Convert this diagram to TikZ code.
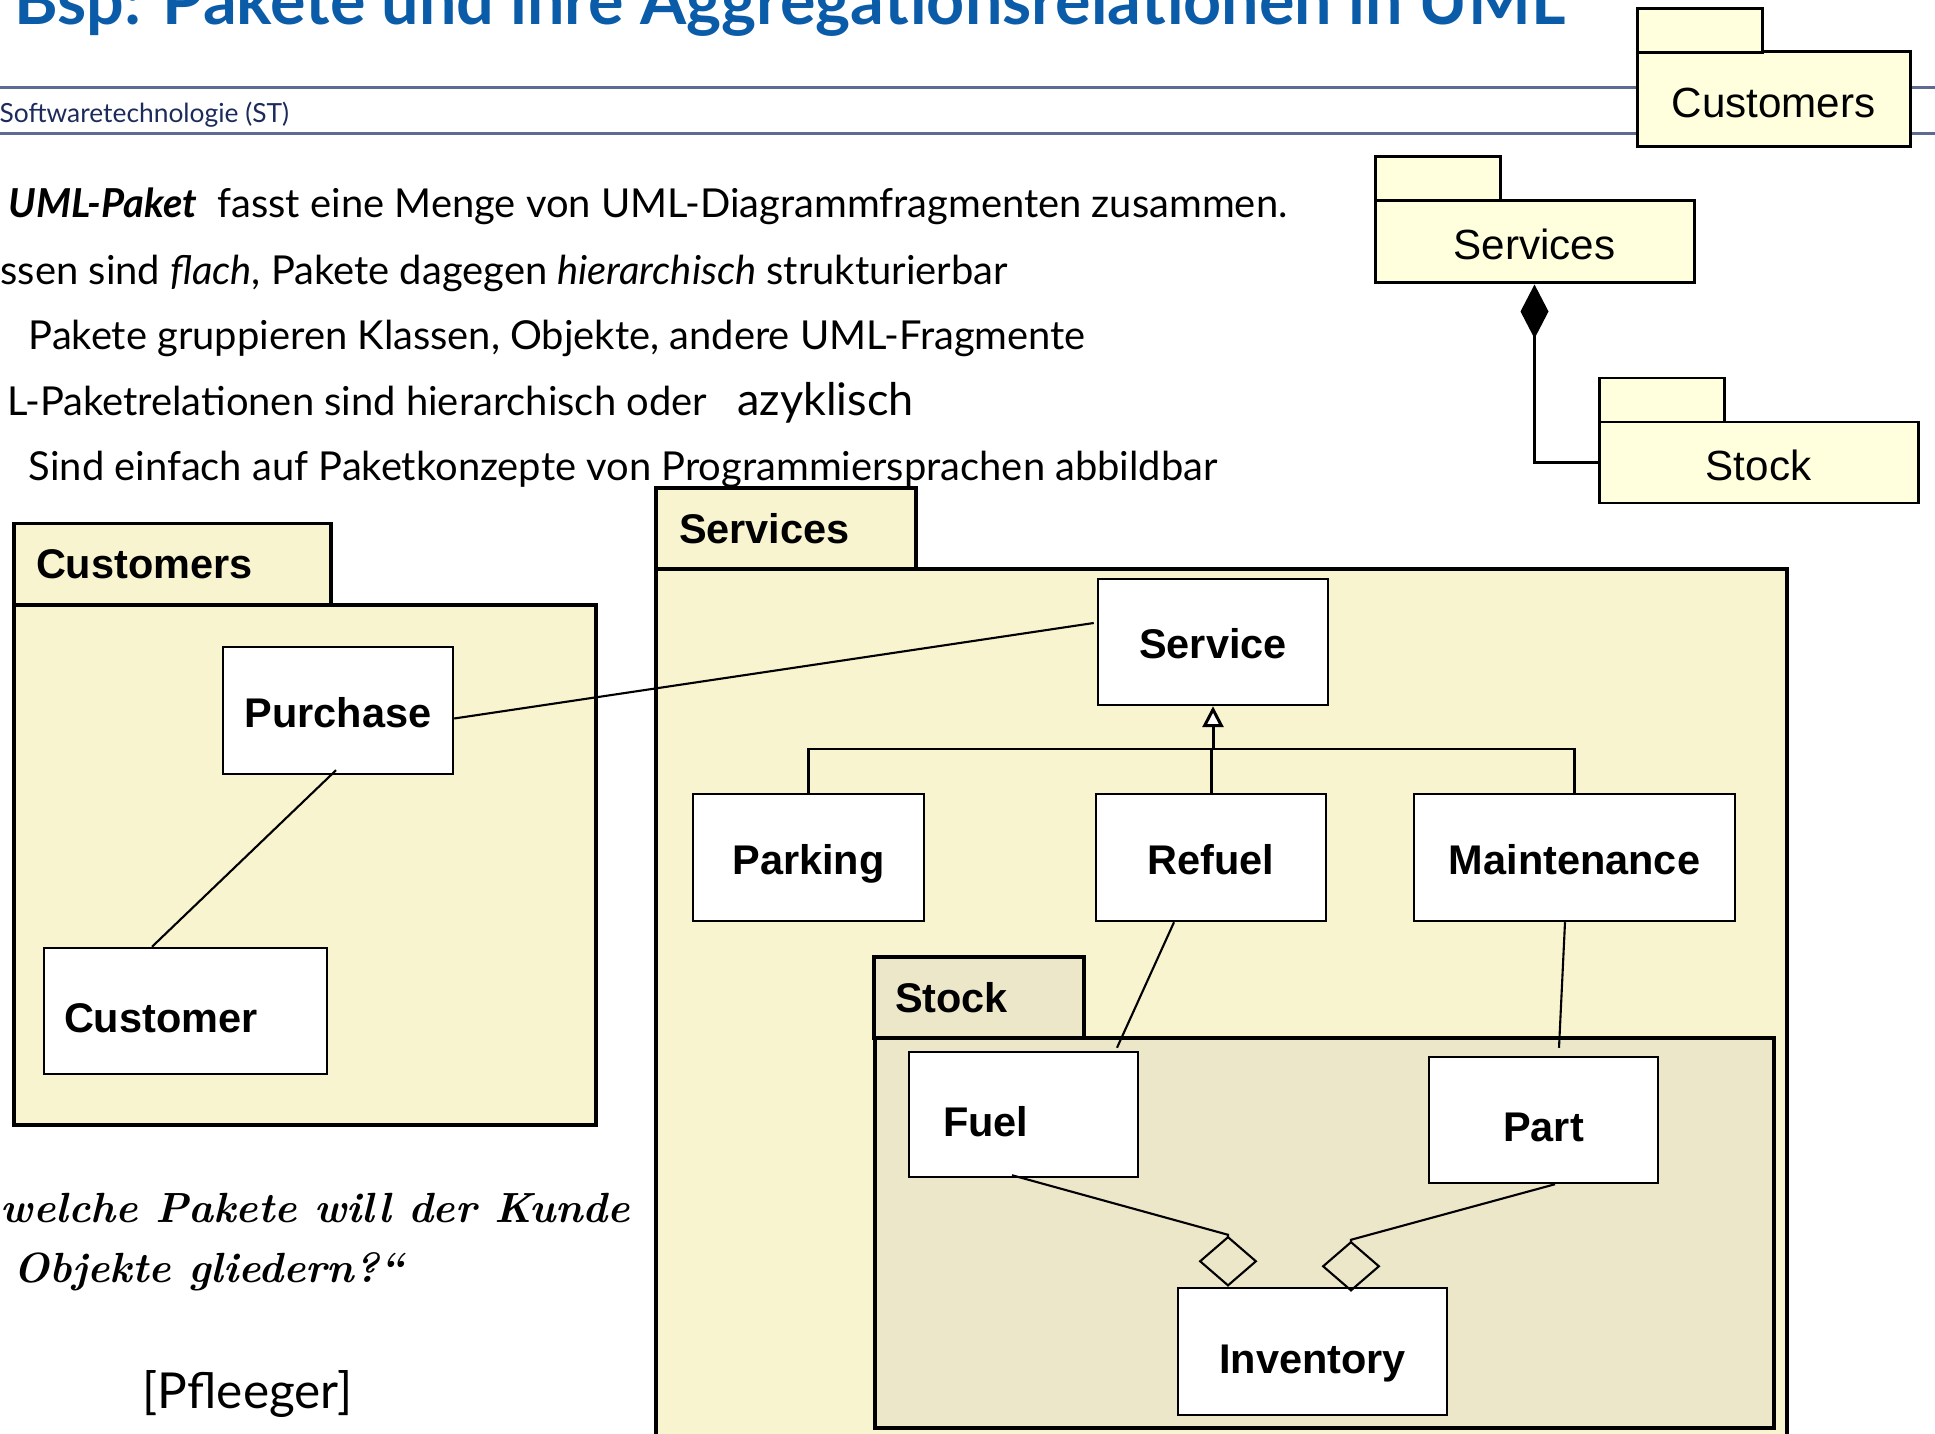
\documentclass[tikz,border=0pt]{standalone}
\usepackage{fontspec}
\setmainfont{Lato}
\newfontfamily\arial{Liberation Sans}
\newfontfamily\hand{Latin Modern Roman}
\usetikzlibrary{arrows.meta}
\definecolor{pkgfill}{HTML}{F8F4D0}
\definecolor{stockfill}{HTML}{EDE7C9}
\definecolor{minifill}{HTML}{FFFFDD}
\definecolor{titleblue}{HTML}{0B5CA8}
\definecolor{headrule}{HTML}{5F6A93}
\definecolor{navy}{HTML}{1C2B5B}
\tikzset{
  slidetitle/.style={font=\bfseries\fontsize{18.9}{21}\selectfont, text=titleblue, inner sep=0pt},
  course/.style={font=\fontsize{7.5}{9}\selectfont, text=navy, inner sep=0pt},
  bodytext/.style={font=\fontsize{11.35}{13}\selectfont, inner sep=0pt, anchor=base west},
  quote/.style={font=\hand\bfseries\itshape\fontsize{12}{14}\selectfont, inner sep=0pt, anchor=base west},
  rulerline/.style={draw=headrule, line width=0.85pt},
  pkgbody/.style={draw, fill=pkgfill, line width=1.1pt, inner sep=0pt},
  pkgtab/.style={pkgbody, align=left, inner xsep=2.2mm, minimum height=8.1mm,
    font=\arial\bfseries\fontsize{11.8}{14}\selectfont},
  stockbody/.style={pkgbody, fill=stockfill},
  stocktab/.style={pkgtab, fill=stockfill},
  cls/.style={draw, fill=white, line width=0.7pt, inner sep=0pt, minimum height=12.7mm,
    text height=3.4mm, text depth=0pt, font=\arial\bfseries\fontsize{11.8}{14}\selectfont},
  lowtext/.style={text height=4.3mm},
  assoc/.style={line width=0.6pt},
  genline/.style={line width=0.85pt},
  minibody/.style={draw, fill=minifill, line width=0.85pt, inner sep=0pt, minimum height=8.2mm,
    text height=3.6mm, text depth=0pt, font=\arial\fontsize{12}{14}\selectfont},
  minitab/.style={minibody, minimum width=12.5mm, minimum height=4.4mm},
}

\begin{document}
\begin{tikzpicture}[x=0.1mm, y=-0.1mm, line join=miter]
\useasboundingbox (0,0) rectangle (1935,1434);
\clip (0,0) rectangle (1935,1434);

% header
\node[slidetitle, anchor=base west] (title) at (14,25) {Bsp: Pakete und ihre Aggregationsrelationen in UML};
\draw[rulerline] (0,88) -- (1935,88);
\draw[rulerline] (0,134) -- (1935,134);
\node[course, anchor=base west] (course) at (-1,123) {Softwaretechnologie (ST)};

% bullets
\node[bodytext] (item1) at (8,218) {\textbf{\textit{UML-Paket}}\ \ fasst eine Menge von UML-Diagrammfragmenten zusammen.};
\node[bodytext] (item2) at (0,285) {ssen sind \textit{flach}, Pakete dagegen \textit{hierarchisch} strukturierbar};
\node[bodytext] (item3) at (28,350) {Pakete gruppieren Klassen, Objekte, andere UML-Fragmente};
\node[bodytext] (item4) at (7,416) {L-Paketrelationen sind hierarchisch oder\ \ \ {\fontsize{12.8}{14}\selectfont azyklisch}};
\node[bodytext] (item5) at (28,481) {Sind einfach auf Paketkonzepte von Programmiersprachen abbildbar};

% package Customers
\node[pkgbody, minimum width=58.2mm, minimum height=52mm] (custbody) at (305,865) {};
\node[pkgtab, text width=27.3mm] (custtab) at (172.5,564) {Customers};
\node[cls, minimum width=23mm] (purchase) at (338,710.5) {Purchase};
\node[cls, lowtext, text width=24.3mm, inner xsep=2mm, align=left, minimum height=12.6mm] (customer) at (185.5,1011) {Customer};

% package Services
\node[pkgbody, minimum width=113.1mm, minimum height=89.1mm] (servbody) at (1221.5,1014.5) {};
\node[pkgtab, text width=21.4mm, inner xsep=2.3mm] (servtab) at (786,528.5) {Services};
\node[cls, minimum width=23mm, minimum height=12.6mm] (service) at (1213,642) {Service};
\node[cls, minimum width=23.1mm] (parking) at (808.5,857.5) {Parking};
\node[cls, minimum width=23mm] (refuel) at (1211,857.5) {Refuel};
\node[cls, minimum width=32.1mm] (maintenance) at (1574.5,857.5) {Maintenance};

% package Stock
\node[stockbody, minimum width=89.9mm, minimum height=39mm] (stockbody) at (1324.5,1233) {};
\node[stocktab, text width=16.8mm, inner xsep=2.1mm] (stocktab) at (979,997.5) {Stock};
\node[cls, lowtext, text width=16.1mm, inner xsep=3.4mm, align=left, minimum height=12.5mm] (fuel) at (1023.5,1114.5) {Fuel};
\node[cls, lowtext, minimum width=22.9mm, minimum height=12.6mm] (part) at (1543.5,1120) {Part};
\node[cls, lowtext, minimum width=26.9mm] (inventory) at (1312.5,1351.5) {Inventory};

% relations
\draw[assoc] ([yshift=-0.8mm]purchase.east) -- ([xshift=-0.3mm,yshift=1.9mm]service.west);
\draw[assoc] ([xshift=-0.2mm,yshift=0.5mm]purchase.south) -- ([xshift=-3.35mm]customer.north);
\coordinate (genbar) at (1211,749);
\draw[genline] (parking.north) |- (genbar) -| (maintenance.north);
\draw[genline] (refuel.north) -- (genbar);
\draw[genline, -{Triangle[fill=white,length=2.1mm,width=2.1mm]}] (service.south |- genbar) -- (service.south);
\draw[assoc] ([xshift=-3.7mm]refuel.south) -- ([xshift=9.35mm,yshift=0.3mm]fuel.north);
\draw[assoc] ([xshift=-0.95mm]maintenance.south) -- ([xshift=1.55mm,yshift=0.8mm]part.north);
\draw[assoc, -{Diamond[open,length=5.1mm,width=5.9mm]}]
  ([xshift=-1.15mm,yshift=0.3mm]fuel.south) -- ([xshift=-8.45mm,yshift=5.2mm]inventory.north) -- ([xshift=-8.45mm]inventory.north);
\draw[assoc, -{Diamond[open,length=5.1mm,width=5.9mm]}]
  ([xshift=1.15mm]part.south) -- ([xshift=3.85mm,yshift=4.7mm]inventory.north) -- ([xshift=3.85mm,yshift=-0.5mm]inventory.north);

% small packages, top right
\node[minibody, minimum width=27.3mm, minimum height=9.5mm] (minicustbody) at (1773.5,99.5) {Customers};
\node[minitab] (minicusttab) at (1699.5,30.5) {};
\node[minibody, minimum width=31.9mm] (miniservbody) at (1534.5,242) {Services};
\node[minitab] (miniservtab) at (1437.5,179) {};
\node[minibody, minimum width=31.9mm, minimum height=8.1mm] (ministockbody) at (1758.5,462.5) {Stock};
\node[minitab] (ministocktab) at (1661.5,400) {};
\draw[genline, -{Diamond[length=5.4mm,width=2.8mm]}] (ministockbody.west) -| (miniservbody.south);

% question
\node[quote] (quote1) at (0,1222) {welche Pakete will der Kunde};
\node[quote] (quote2) at (13,1282) {Objekte gliedern?“};
\node[bodytext, font=\fontsize{14.1}{16}\selectfont] (source) at (142,1408) {[Pfleeger]};
\end{tikzpicture}
\end{document}
